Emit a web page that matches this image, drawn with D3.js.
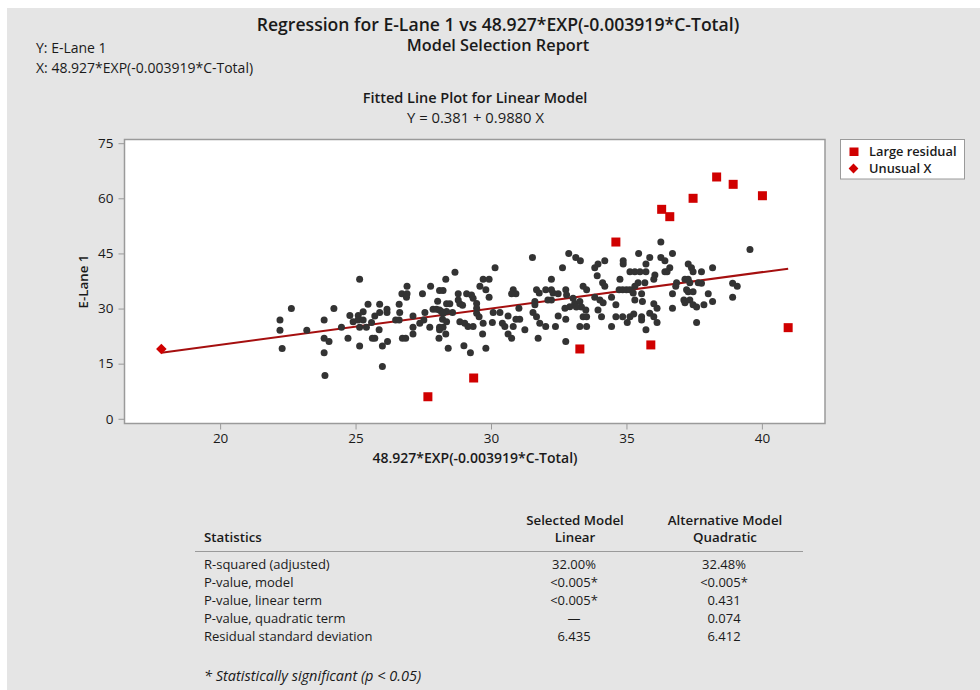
<!DOCTYPE html>
<html>
<head>
<meta charset="utf-8">
<script src="https://cdn.jsdelivr.net/npm/d3@7"></script>
<style>
  html, body { margin: 0; padding: 0; background: #ffffff; }
  svg { display: block; font-family: "Segoe UI", "Open Sans", "Noto Sans", sans-serif; }
</style>
</head>
<body>
<svg id="chart" width="980" height="690"></svg>
<script>
// ---- Data -------------------------------------------------------------
const xTicks = [20, 25, 30, 35, 40];
const yTicks = [0, 15, 30, 45, 60, 75];

// Regression coefficients (Y = b0 + b1 X)
const intercept = 0.381;
const slope = 0.9880;

// Ordinary observations
const obsX = [
  22.21, 22.63, 22.21, 23.20, 22.29, 23.87,
  25.15, 26.90, 27.77, 28.33, 26.71, 26.90, 26.88, 27.47, 28.10, 28.23, 28.03,
  25.46, 25.89, 26.61, 24.20, 24.79, 25.10, 25.28, 25.89, 26.16, 26.16, 26.63,
  27.12, 27.56, 27.86, 27.99, 28.17, 28.36, 24.91, 25.09, 25.28, 25.59, 25.71,
  26.48, 26.61, 23.84, 24.48, 25.15, 25.40, 25.87, 27.12, 27.12, 27.37, 27.52,
  27.74, 28.10, 28.23, 28.33, 23.84, 24.02, 24.72, 25.62, 25.71, 26.18, 26.73,
  26.85, 28.08, 25.15, 25.99, 28.42, 23.84, 25.99,
  31.53, 32.87, 33.13, 33.30, 32.64, 30.15, 28.67, 29.71, 29.93, 32.23, 29.59,
  29.81, 29.93, 28.79, 28.79, 29.10, 29.28, 29.34, 30.82, 30.92, 30.76, 31.68,
  31.78, 32.02, 32.23, 32.29, 32.23, 32.10, 32.76, 32.79, 32.48, 33.40, 33.53,
  28.36, 28.48, 28.85, 28.95, 29.47, 29.47, 31.62, 31.62, 33.03, 33.09, 32.91,
  32.73, 33.28, 33.34, 33.15, 31.03, 28.10, 28.23, 28.58, 29.47, 29.56, 30.08,
  30.33, 30.63, 30.92, 31.06, 31.55, 31.68, 32.48, 32.76, 33.40, 33.53, 28.21,
  28.36, 28.85, 29.03, 29.15, 29.34, 29.71, 30.05, 30.42, 30.51, 30.82, 31.25,
  31.80, 32.02, 32.38, 33.28, 33.53, 28.10, 29.69, 30.63, 30.76, 31.74, 32.76,
  29.00, 29.24, 29.81,
  36.27, 35.45, 35.86, 36.27, 36.42, 36.70, 34.20, 33.95, 33.83, 34.88, 34.88,
  35.72, 37.28, 37.40, 37.46, 36.60, 36.50, 36.42, 37.77, 38.18, 35.13, 35.31,
  35.50, 35.72, 36.05, 36.01, 33.92, 34.12, 34.20, 34.76, 35.43, 35.31, 35.68,
  36.85, 36.82, 37.16, 37.28, 37.34, 37.22, 37.65, 34.73, 34.86, 35.00, 35.13,
  35.25, 35.56, 36.70, 37.28, 37.46, 38.02, 33.83, 34.02, 34.14, 34.45, 35.31,
  35.59, 36.01, 36.13, 34.61, 37.12, 37.16, 37.34, 37.46, 37.59, 37.86, 38.18,
  36.70, 33.50, 33.95, 34.08, 34.61, 34.86, 35.13, 35.27, 35.56, 35.56, 35.86,
  36.01, 36.13, 35.03, 34.45, 35.72, 37.59,
  39.56, 37.77, 38.92, 39.09, 38.92
];
const obsY = [
  26.9, 30.0, 24.1, 24.1, 19.1, 11.8,
  38.0, 36.1, 36.1, 38.0, 34.0, 34.0, 33.1, 34.0, 34.9, 34.9, 32.0,
  31.2, 31.2, 31.2, 30.0, 28.1, 28.1, 29.1, 28.9, 29.8, 28.9, 28.9,
  28.0, 28.9, 29.8, 29.8, 29.2, 29.2, 26.4, 26.9, 26.9, 26.2, 28.0,
  26.9, 26.9, 26.9, 24.9, 24.9, 24.9, 24.2, 24.9, 23.1, 26.0, 26.9,
  24.9, 24.9, 24.9, 23.1, 21.9, 21.0, 21.9, 21.9, 21.9, 21.0, 21.9,
  21.9, 21.9, 19.8, 19.8, 19.2, 18.0, 14.2,
  43.9, 45.0, 43.9, 43.0, 41.1, 41.1, 39.9, 38.0, 38.0, 38.0, 36.1,
  35.1, 33.1, 34.0, 32.3, 34.0, 33.7, 32.8, 35.1, 34.0, 34.0, 35.1,
  34.2, 35.1, 35.1, 34.2, 32.3, 32.3, 35.1, 33.7, 34.0, 36.1, 35.1,
  31.3, 31.3, 31.3, 30.9, 31.4, 30.1, 31.9, 31.0, 32.8, 31.4, 30.5,
  30.1, 31.9, 30.4, 30.4, 30.1, 29.6, 28.7, 28.9, 28.7, 27.8, 28.9,
  28.9, 28.0, 27.1, 27.1, 28.9, 27.8, 28.0, 27.1, 27.8, 27.8, 27.1,
  26.4, 26.4, 26.0, 25.1, 25.1, 26.0, 26.2, 26.0, 25.1, 25.1, 24.2,
  26.0, 25.1, 25.1, 25.1, 25.1, 24.2, 23.1, 23.1, 21.9, 21.9, 21.0,
  19.9, 18.0, 19.2,
  48.1, 45.0, 43.9, 43.9, 43.0, 45.0, 43.0, 42.1, 41.1, 43.0, 42.1,
  42.1, 42.1, 41.1, 40.0, 41.1, 40.0, 40.0, 40.0, 41.1, 40.0, 40.0,
  40.0, 40.0, 39.1, 38.0, 38.9, 37.0, 36.1, 38.0, 37.0, 36.1, 37.0,
  37.0, 36.1, 38.0, 38.0, 37.0, 35.1, 37.0, 35.1, 35.1, 35.1, 35.1,
  34.2, 34.0, 34.0, 34.6, 34.6, 34.0, 33.1, 32.3, 31.6, 33.1, 32.3,
  31.9, 31.3, 30.1, 31.0, 32.3, 31.6, 32.3, 31.0, 30.4, 31.0, 31.9,
  30.1, 29.6, 29.6, 27.8, 27.8, 27.8, 27.8, 28.5, 27.8, 26.9, 28.7,
  27.8, 26.2, 26.2, 25.1, 24.2, 26.2,
  46.1, 36.9, 36.9, 36.1, 33.1
];

// Observations flagged with a large residual
const largeResX = [27.67, 29.36, 33.28, 34.61, 35.90, 36.30, 36.60, 37.46, 38.33, 38.94, 40.02, 40.97];
const largeResY = [6.0, 11.1, 19.0, 48.1, 20.1, 57.0, 55.0, 60.0, 65.8, 63.8, 60.7, 24.8];

// Observation flagged as unusual X
const unusualX = [17.83];
const unusualY = [19.0];

// Summary table
const tableRowLabels = [
  "R-squared (adjusted)",
  "P-value, model",
  "P-value, linear term",
  "P-value, quadratic term",
  "Residual standard deviation"
];
const linearColumn = ["32.00%", "<0.005*", "<0.005*", "—", "6.435"];
const quadraticColumn = ["32.48%", "<0.005*", "0.431", "0.074", "6.412"];

// ---- Drawing ----------------------------------------------------------
const svg = d3.select("#chart");
const textColor = "#1a1a1a";
const semi = 600;

// panel background
svg.append("rect").attr("x", 7).attr("y", 8).attr("width", 973).attr("height", 682)
  .attr("fill", "#e5e5e5");

// header
svg.append("text").attr("x", 498).attr("y", 31).attr("text-anchor", "middle")
  .attr("font-size", 17.6).attr("font-weight", semi).attr("fill", textColor)
  .text("Regression for E-Lane 1 vs 48.927*EXP(-0.003919*C-Total)");
svg.append("text").attr("x", 498).attr("y", 51).attr("text-anchor", "middle")
  .attr("font-size", 16.3).attr("font-weight", semi).attr("fill", textColor)
  .text("Model Selection Report");
svg.append("text").attr("x", 36).attr("y", 53).attr("font-size", 14).attr("fill", textColor)
  .text("Y: E-Lane 1");
svg.append("text").attr("x", 36).attr("y", 73).attr("font-size", 14).attr("fill", textColor)
  .text("X: 48.927*EXP(-0.003919*C-Total)");

svg.append("text").attr("x", 475).attr("y", 103).attr("text-anchor", "middle")
  .attr("font-size", 14.5).attr("font-weight", semi).attr("fill", textColor)
  .text("Fitted Line Plot for Linear Model");
svg.append("text").attr("x", 475.5).attr("y", 123).attr("text-anchor", "middle")
  .attr("font-size", 14.8).attr("fill", textColor)
  .text("Y = 0.381 + 0.9880 X");

// plot area
const plot = { left: 124.5, right: 825, top: 139.5, bottom: 423.5 };
const x = d3.scaleLinear().domain([16.47, 42.33]).range([plot.left, plot.right]);
const y = d3.scaleLinear().domain([-1.28, 76.0]).range([plot.bottom, plot.top]);

svg.append("rect").attr("x", plot.left).attr("y", plot.top)
  .attr("width", plot.right - plot.left).attr("height", plot.bottom - plot.top)
  .attr("fill", "#ffffff").attr("stroke", "#9a9a9a").attr("stroke-width", 1.5);

// axes
const xAxis = svg.append("g").attr("transform", `translate(0,${plot.bottom})`)
  .call(d3.axisBottom(x).tickValues(xTicks).tickSize(6).tickSizeOuter(0).tickPadding(4));
const yAxis = svg.append("g").attr("transform", `translate(${plot.left},0)`)
  .call(d3.axisLeft(y).tickValues(yTicks).tickSize(6).tickSizeOuter(0).tickPadding(5));
[xAxis, yAxis].forEach(g => {
  g.select(".domain").remove();
  g.selectAll(".tick line").attr("stroke", "#9a9a9a");
  g.selectAll(".tick text").attr("fill", textColor).attr("font-size", 13.5)
    .attr("font-family", "\"Segoe UI\", \"Open Sans\", \"Noto Sans\", sans-serif");
});

svg.append("text").attr("x", 475).attr("y", 463).attr("text-anchor", "middle")
  .attr("font-size", 14).attr("font-weight", semi).attr("fill", textColor)
  .text("48.927*EXP(-0.003919*C-Total)");
svg.append("text").attr("transform", `translate(88,${(plot.top + plot.bottom) / 2}) rotate(-90)`)
  .attr("text-anchor", "middle").attr("font-size", 13.3).attr("font-weight", semi)
  .attr("fill", textColor).text("E-Lane 1");

// fitted line over the observed X range
const allX = obsX.concat(largeResX, unusualX);
const xr = d3.extent(allX);
svg.append("line")
  .attr("x1", x(xr[0])).attr("y1", y(intercept + slope * xr[0]))
  .attr("x2", x(xr[1])).attr("y2", y(intercept + slope * xr[1]))
  .attr("stroke", "#a50f0f").attr("stroke-width", 2);

// observations
svg.append("g").selectAll("circle").data(d3.range(obsX.length)).join("circle")
  .attr("cx", i => x(obsX[i])).attr("cy", i => y(obsY[i])).attr("r", 3.5)
  .attr("fill", "#333333");

const red = "#d00000";
svg.append("g").selectAll("rect").data(d3.range(largeResX.length)).join("rect")
  .attr("x", i => x(largeResX[i]) - 4.5).attr("y", i => y(largeResY[i]) - 4.5)
  .attr("width", 9).attr("height", 9).attr("fill", red);

const diamondPath = d3.symbol().type(d3.symbolSquare).size(56);
svg.append("g").selectAll("path").data(d3.range(unusualX.length)).join("path")
  .attr("transform", i => `translate(${x(unusualX[i])},${y(unusualY[i])}) rotate(45)`)
  .attr("d", diamondPath).attr("fill", red);

// legend
const lg = svg.append("g");
lg.append("rect").attr("x", 840.5).attr("y", 139.5).attr("width", 124).attr("height", 39.5)
  .attr("fill", "#ffffff").attr("stroke", "#9a9a9a");
lg.append("rect").attr("x", 849.5).attr("y", 147.5).attr("width", 9).attr("height", 8.5).attr("fill", red);
lg.append("path").attr("transform", "translate(853.5,168.5) rotate(45)")
  .attr("d", d3.symbol().type(d3.symbolSquare).size(48)).attr("fill", red);
lg.append("text").attr("x", 869).attr("y", 156).attr("font-size", 12.8).attr("font-weight", semi)
  .attr("fill", textColor).text("Large residual");
lg.append("text").attr("x", 869).attr("y", 173).attr("font-size", 12.8).attr("font-weight", semi)
  .attr("fill", textColor).text("Unusual X");

// summary table
const col1 = 574, col2 = 724, labelX = 204;
const tb = svg.append("g").attr("fill", textColor);
tb.append("text").attr("x", labelX).attr("y", 542).attr("font-size", 13.3).attr("font-weight", semi)
  .text("Statistics");
[["Selected Model", "Linear", col1 + 1], ["Alternative Model", "Quadratic", col2 + 1]].forEach(([a, b, cx]) => {
  tb.append("text").attr("x", cx).attr("y", 525).attr("text-anchor", "middle")
    .attr("font-size", 13.3).attr("font-weight", semi).text(a);
  tb.append("text").attr("x", cx).attr("y", 542).attr("text-anchor", "middle")
    .attr("font-size", 13.3).attr("font-weight", semi).text(b);
});
tb.append("line").attr("x1", 195).attr("x2", 803).attr("y1", 551.5).attr("y2", 551.5)
  .attr("stroke", "#9a9a9a").attr("stroke-width", 1);

const rowY = d3.scalePoint().domain(d3.range(tableRowLabels.length)).range([569, 641]);
tableRowLabels.forEach((lab, i) => {
  tb.append("text").attr("x", labelX).attr("y", rowY(i)).attr("font-size", 13).text(lab);
  tb.append("text").attr("x", col1).attr("y", rowY(i)).attr("text-anchor", "middle")
    .attr("font-size", 13).text(linearColumn[i]);
  tb.append("text").attr("x", col2).attr("y", rowY(i)).attr("text-anchor", "middle")
    .attr("font-size", 13).text(quadraticColumn[i]);
});
tb.append("text").attr("x", labelX).attr("y", 681).attr("font-size", 14.5).attr("font-style", "italic")
  .text("* Statistically significant (p < 0.05)");
</script>
</body>
</html>
